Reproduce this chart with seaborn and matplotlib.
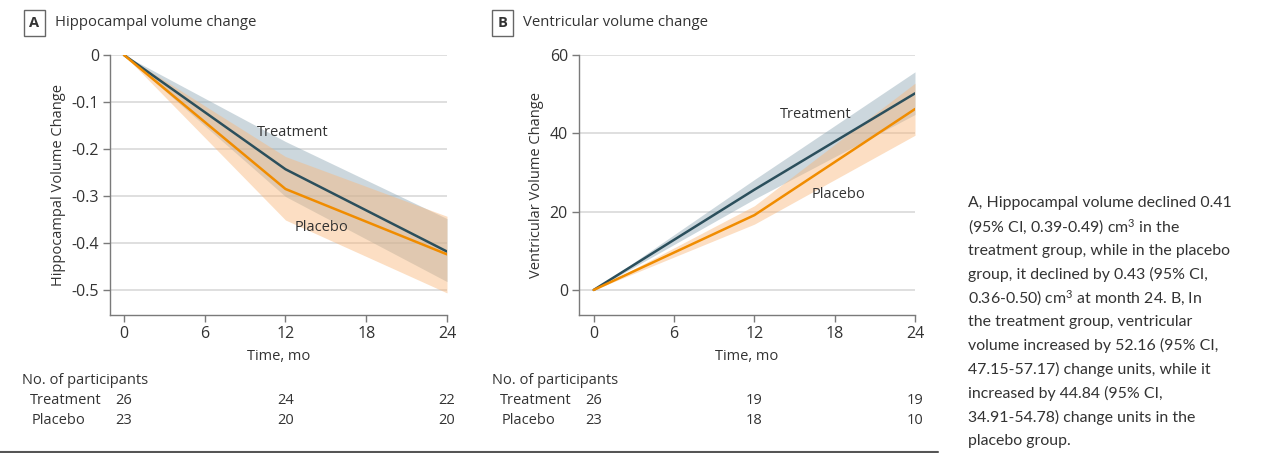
import matplotlib
matplotlib.use("Agg")
import matplotlib.pyplot as plt
import seaborn as sns
import pandas as pd
from matplotlib.lines import Line2D
import matplotlib.transforms as mtransforms

# ---------------- data ----------------
months = [0, 12, 24]
groups = ["Treatment", "Placebo"]

hippo_treat = [0, -0.243, -0.418]
hippo_treat_lo = [0, -0.301, -0.482]
hippo_treat_hi = [0, -0.184, -0.348]
hippo_plac = [0, -0.285, -0.424]
hippo_plac_lo = [0, -0.351, -0.506]
hippo_plac_hi = [0, -0.216, -0.343]

vent_treat = [0, 25.6, 50.2]
vent_treat_lo = [0, 23.2, 44.8]
vent_treat_hi = [0, 28.2, 55.7]
vent_plac = [0, 19.1, 46.2]
vent_plac_lo = [0, 16.8, 39.5]
vent_plac_hi = [0, 21.5, 52.8]

hippo_yticks = [0, -0.1, -0.2, -0.3, -0.4, -0.5]
hippo_yticklabels = ["0", "-0.1", "-0.2", "-0.3", "-0.4", "-0.5"]
vent_yticks = [0, 20, 40, 60]
xticks = [0, 6, 12, 18, 24]

n_hippo_treat = [26, 24, 22]
n_hippo_plac = [23, 20, 20]
n_vent_treat = [26, 19, 19]
n_vent_plac = [23, 18, 10]

caption_lines = [
    "A, Hippocampal volume declined 0.41",
    "(95% CI, 0.39-0.49) cm$^{3}$ in the",
    "treatment group, while in the placebo",
    "group, it declined by 0.43 (95% CI,",
    "0.36-0.50) cm$^{3}$ at month 24. B, In",
    "the treatment group, ventricular",
    "volume increased by 52.16 (95% CI,",
    "47.15-57.17) change units, while it",
    "increased by 44.84 (95% CI,",
    "34.91-54.78) change units in the",
    "placebo group.",
]

# ---------------- style ----------------
sns.set_style("white")
plt.rcParams["font.family"] = ["Open Sans", "DejaVu Sans"]
plt.rcParams["axes.unicode_minus"] = False
plt.rcParams["mathtext.fontset"] = "custom"
plt.rcParams["mathtext.rm"] = "Lato"
plt.rcParams["mathtext.it"] = "Lato"
plt.rcParams["mathtext.default"] = "regular"

TXT = "#333333"
C_T = "#2b4f5c"
C_P = "#f08c00"
BAND_T = "#8fa8b5"
BAND_P = "#f9b77a"
GRID = "#d9d9d9"
SPINE = "#7a7a7a"
FS = 10.5

W, H = 1265, 453
fig = plt.figure(figsize=(W / 100, H / 100), dpi=100)


def fx(px):
    return px / W


def fy(py):
    return 1 - py / H


def panel(left_px, right_px, ylim, yticks, yticklabels, ylabel,
          t, t_lo, t_hi, p, p_lo, p_hi, xlim_left,
          lab_t, lab_p):
    ax = fig.add_axes([fx(left_px), fy(315), fx(right_px - left_px), fy(55) - fy(315)])
    ax.fill_between(months, t_lo, t_hi, color=BAND_T, alpha=0.45, lw=0, zorder=1)
    ax.fill_between(months, p_lo, p_hi, color=BAND_P, alpha=0.45, lw=0, zorder=2)
    df = pd.DataFrame({
        "month": months * 2,
        "value": list(t) + list(p),
        "group": [groups[0]] * 3 + [groups[1]] * 3,
    })
    sns.lineplot(data=df, x="month", y="value", hue="group",
                 palette={groups[0]: C_T, groups[1]: C_P},
                 linewidth=1.8, legend=False, ax=ax, zorder=4)
    ax.set_xlim(xlim_left, 24)
    ax.set_ylim(*ylim)
    ax.set_yticks(yticks)
    ax.set_yticklabels(yticklabels)
    ax.set_xticks(xticks)
    ax.yaxis.grid(True, color=GRID, lw=1.2, zorder=0)
    ax.xaxis.grid(False)
    ax.set_axisbelow(True)
    for s in ["top", "right"]:
        ax.spines[s].set_visible(False)
    for s in ["left", "bottom"]:
        ax.spines[s].set_color(SPINE)
        ax.spines[s].set_linewidth(1.0)
    ax.tick_params(axis="both", direction="out", length=5, width=1.0,
                   color=SPINE, labelcolor=TXT, labelsize=11.5, pad=3,
                   left=True, bottom=True)
    ax.set_xlabel("Time, mo", fontsize=FS, color=TXT, labelpad=5)
    ax.set_ylabel(ylabel, fontsize=FS, color=TXT, labelpad=4)
    ax.text(*lab_t, "Treatment", fontsize=FS, color=TXT, ha="center", va="center", zorder=5)
    ax.text(*lab_p, "Placebo", fontsize=FS, color=TXT, ha="center", va="center", zorder=5)
    return ax


axA = panel(110, 447, (-0.553, 0), hippo_yticks, hippo_yticklabels,
            "Hippocampal Volume Change",
            hippo_treat, hippo_treat_lo, hippo_treat_hi,
            hippo_plac, hippo_plac_lo, hippo_plac_hi, -1.04,
            (12.5, -0.164), (14.7, -0.367))
axB = panel(579, 915, (-6.4, 60), vent_yticks, [str(v) for v in vent_yticks],
            "Ventricular Volume Change",
            vent_treat, vent_treat_lo, vent_treat_hi,
            vent_plac, vent_plac_lo, vent_plac_hi, -1.1,
            (16.6, 44.9), (18.3, 24.4))

# panel titles
for box_x, txt_x, letter, title in [(34.5, 55, "A", "Hippocampal volume change"),
                                     (502.5, 523, "B", "Ventricular volume change")]:
    fig.text(fx(box_x), fy(23), letter, fontsize=10.5, fontweight="bold", color=TXT,
             ha="center", va="center",
             bbox=dict(boxstyle="square,pad=0.4", fc="white", ec="#666666", lw=1.0))
    fig.text(fx(txt_x), fy(22), title, fontsize=FS + 0.2, color=TXT, ha="left", va="center")

# participants tables
for ax, head_x, nt, npl in [(axA, 22, n_hippo_treat, n_hippo_plac),
                            (axB, 492, n_vent_treat, n_vent_plac)]:
    fig.text(fx(head_x), fy(381), "No. of participants", fontsize=FS, color=TXT,
             ha="left", va="center")
    fig.text(fx(head_x + 8), fy(401), groups[0], fontsize=FS, color=TXT,
             ha="left", va="center")
    fig.text(fx(head_x + 10), fy(420), groups[1], fontsize=FS, color=TXT,
             ha="left", va="center")
    tr = mtransforms.blended_transform_factory(ax.transData, fig.transFigure)
    for m, a, b in zip(months, nt, npl):
        ax.text(m, fy(401), str(a), transform=tr, fontsize=FS, color=TXT,
                ha="center", va="center", clip_on=False)
        ax.text(m, fy(420), str(b), transform=tr, fontsize=FS, color=TXT,
                ha="center", va="center", clip_on=False)

# bottom rule
fig.add_artist(Line2D([0, fx(938)], [fy(451.5), fy(451.5)], color="#555555", lw=1.5,
                      transform=fig.transFigure))

# caption
for i, line in enumerate(caption_lines):
    fig.text(fx(968), fy(203 + i * 23.8), line, fontsize=11.4, color=TXT,
             ha="left", va="center", family=["Lato", "DejaVu Sans"])

fig.savefig("out.png", dpi=100)
